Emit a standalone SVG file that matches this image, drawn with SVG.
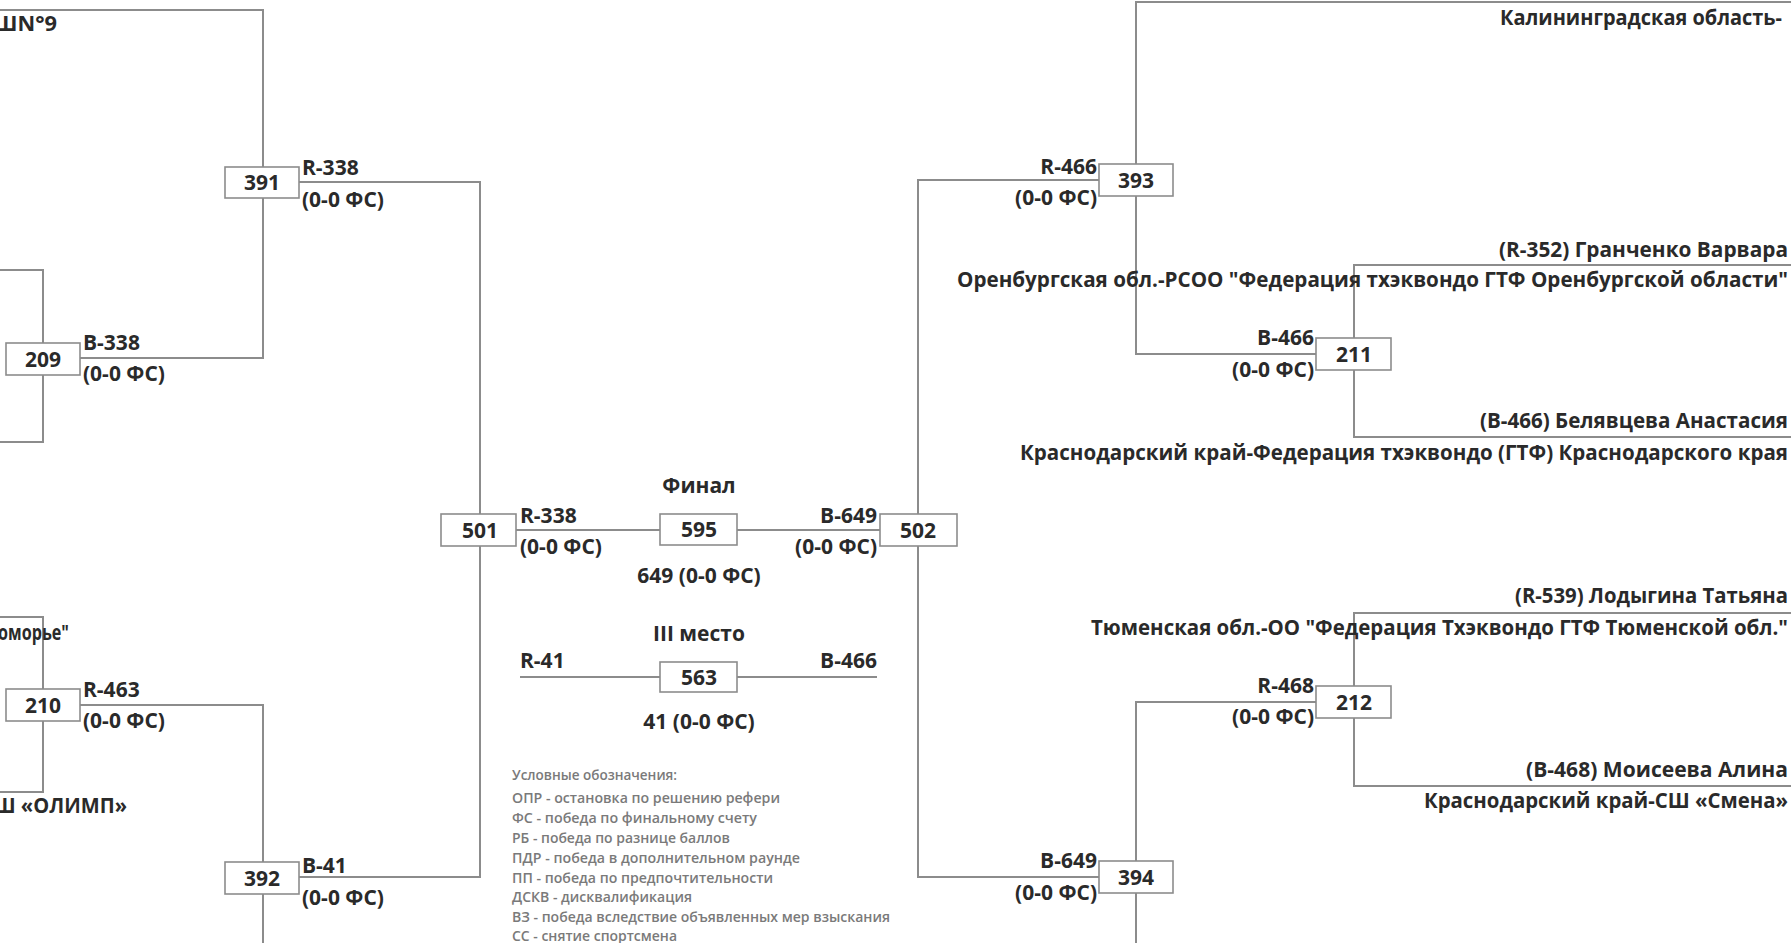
<svg xmlns="http://www.w3.org/2000/svg" width="1791" height="943" viewBox="0 0 1791 943">
<style>
.bg{fill:#ffffff}
.ln{fill:none;stroke:#8c8c8c;stroke-width:2}
.bx{fill:#ffffff;stroke:#8c8c8c;stroke-width:1.6}
.t{font-family:"Open Sans","Liberation Sans",sans-serif;font-size:21px;font-weight:700;fill:#2a2a2a}
.n{text-anchor:middle}
.e{text-anchor:end}
.lg{font-family:"Open Sans","Liberation Sans",sans-serif;font-size:14px;font-weight:600;fill:#7a7a7a}
</style>
<rect class="bg" x="0" y="0" width="1791" height="943"/>
<g id="connectors">
<path class="ln" d="M0,10 H263 V358 H80"/>
<path class="ln" d="M0,270 H43 V442 H0"/>
<path class="ln" d="M0,617 H43 V792 H0"/>
<path class="ln" d="M80,705 H263 V943"/>
<path class="ln" d="M299,182 H480 V877 H299"/>
<path class="ln" d="M516,530 H660"/>
<path class="ln" d="M737,530 H880"/>
<path class="ln" d="M520,677 H660"/>
<path class="ln" d="M737,677 H877"/>
<path class="ln" d="M1791,2 H1136 V354 H1316"/>
<path class="ln" d="M1099,180 H918 V877 H1099"/>
<path class="ln" d="M1791,265 H1354 V437 H1791"/>
<path class="ln" d="M1791,613 H1354 V786 H1791"/>
<path class="ln" d="M1316,702 H1136 V943"/>
</g>
<g id="n391"><rect class="bx" x="225" y="167" width="74" height="31"/><text class="t n" x="262" y="190">391</text></g>
<g id="n209"><rect class="bx" x="6" y="343" width="74" height="32"/><text class="t n" x="43" y="367">209</text></g>
<g id="n210"><rect class="bx" x="6" y="689" width="74" height="32"/><text class="t n" x="43" y="713">210</text></g>
<g id="n392"><rect class="bx" x="225" y="862" width="74" height="32"/><text class="t n" x="262" y="886">392</text></g>
<g id="n501"><rect class="bx" x="441" y="514" width="75" height="32"/><text class="t n" x="480" y="538">501</text></g>
<g id="n595"><rect class="bx" x="660" y="514" width="77" height="31"/><text class="t n" x="699" y="537">595</text></g>
<g id="n502"><rect class="bx" x="880" y="514" width="77" height="32"/><text class="t n" x="918" y="538">502</text></g>
<g id="n563"><rect class="bx" x="660" y="662" width="77" height="30"/><text class="t n" x="699" y="685">563</text></g>
<g id="n393"><rect class="bx" x="1099" y="164" width="74" height="32"/><text class="t n" x="1136" y="188">393</text></g>
<g id="n211"><rect class="bx" x="1316" y="338" width="75" height="32"/><text class="t n" x="1354" y="362">211</text></g>
<g id="n212"><rect class="bx" x="1316" y="686" width="75" height="32"/><text class="t n" x="1354" y="710">212</text></g>
<g id="n394"><rect class="bx" x="1099" y="861" width="74" height="32"/><text class="t n" x="1136" y="885">394</text></g>
<g id="labels">
<text class="t" x="302" y="175">R-338</text><text class="t" x="302" y="207">(0-0 ФС)</text>
<text class="t" x="83" y="350">B-338</text><text class="t" x="83" y="381">(0-0 ФС)</text>
<text class="t" x="83" y="697">R-463</text><text class="t" x="83" y="728">(0-0 ФС)</text>
<text class="t" x="302" y="873">B-41</text><text class="t" x="302" y="905">(0-0 ФС)</text>
<text class="t" x="520" y="523">R-338</text><text class="t" x="520" y="554">(0-0 ФС)</text>
<text class="t e" x="877" y="523">B-649</text><text class="t e" x="877" y="554">(0-0 ФС)</text>
<text class="t" x="520" y="668">R-41</text><text class="t e" x="877" y="668">B-466</text>
<text class="t n" x="699" y="493">Финал</text>
<text class="t n" x="699" y="583">649 (0-0 ФС)</text>
<text class="t n" x="699" y="641">III место</text>
<text class="t n" x="699" y="729">41 (0-0 ФС)</text>
<text class="t e" x="1097" y="174">R-466</text><text class="t e" x="1097" y="205">(0-0 ФС)</text>
<text class="t e" x="1314" y="345">B-466</text><text class="t e" x="1314" y="377">(0-0 ФС)</text>
<text class="t e" x="1314" y="693">R-468</text><text class="t e" x="1314" y="724">(0-0 ФС)</text>
<text class="t e" x="1097" y="868">B-649</text><text class="t e" x="1097" y="900">(0-0 ФС)</text>
</g>
<g id="participants">
<text class="t" x="-6" y="31" textLength="63" lengthAdjust="spacingAndGlyphs">ШN°9</text>
<text class="t" x="-14" y="640" textLength="83" lengthAdjust="spacingAndGlyphs">Поморье"</text>
<text class="t" x="-6" y="813" textLength="133" lengthAdjust="spacingAndGlyphs">Ш «ОЛИМП»</text>
<text class="t" x="1500" y="25" textLength="282" lengthAdjust="spacingAndGlyphs">Калининградская область-</text>
<text class="t" x="1499" y="257" textLength="289" lengthAdjust="spacingAndGlyphs">(R-352) Гранченко Варвара</text>
<text class="t" x="957" y="287" textLength="831" lengthAdjust="spacingAndGlyphs">Оренбургская обл.-РСОО "Федерация тхэквондо ГТФ Оренбургской области"</text>
<text class="t" x="1480" y="428" textLength="308" lengthAdjust="spacingAndGlyphs">(B-466) Белявцева Анастасия</text>
<text class="t" x="1020" y="460" textLength="768" lengthAdjust="spacingAndGlyphs">Краснодарский край-Федерация тхэквондо (ГТФ) Краснодарского края</text>
<text class="t" x="1515" y="603" textLength="273" lengthAdjust="spacingAndGlyphs">(R-539) Лодыгина Татьяна</text>
<text class="t" x="1091" y="635" textLength="697" lengthAdjust="spacingAndGlyphs">Тюменская обл.-ОО "Федерация Тхэквондо ГТФ Тюменской обл."</text>
<text class="t" x="1526" y="777" textLength="262" lengthAdjust="spacingAndGlyphs">(B-468) Моисеева Алина</text>
<text class="t" x="1424" y="808" textLength="364" lengthAdjust="spacingAndGlyphs">Краснодарский край-СШ «Смена»</text>
</g>
<g id="legend">
<text class="lg" x="512" y="780" textLength="165" lengthAdjust="spacingAndGlyphs">Условные обозначения:</text>
<text class="lg" x="512" y="803" textLength="268" lengthAdjust="spacingAndGlyphs">ОПР - остановка по решению рефери</text>
<text class="lg" x="512" y="823" textLength="245" lengthAdjust="spacingAndGlyphs">ФС - победа по финальному счету</text>
<text class="lg" x="512" y="843" textLength="218" lengthAdjust="spacingAndGlyphs">РБ - победа по разнице баллов</text>
<text class="lg" x="512" y="863" textLength="288" lengthAdjust="spacingAndGlyphs">ПДР - победа в дополнительном раунде</text>
<text class="lg" x="512" y="883" textLength="261" lengthAdjust="spacingAndGlyphs">ПП - победа по предпочтительности</text>
<text class="lg" x="512" y="902" textLength="180" lengthAdjust="spacingAndGlyphs">ДСКВ - дисквалификация</text>
<text class="lg" x="512" y="922" textLength="378" lengthAdjust="spacingAndGlyphs">ВЗ - победа вследствие объявленных мер взыскания</text>
<text class="lg" x="512" y="941" textLength="165" lengthAdjust="spacingAndGlyphs">СС - снятие спортсмена</text>
</g>
</svg>
